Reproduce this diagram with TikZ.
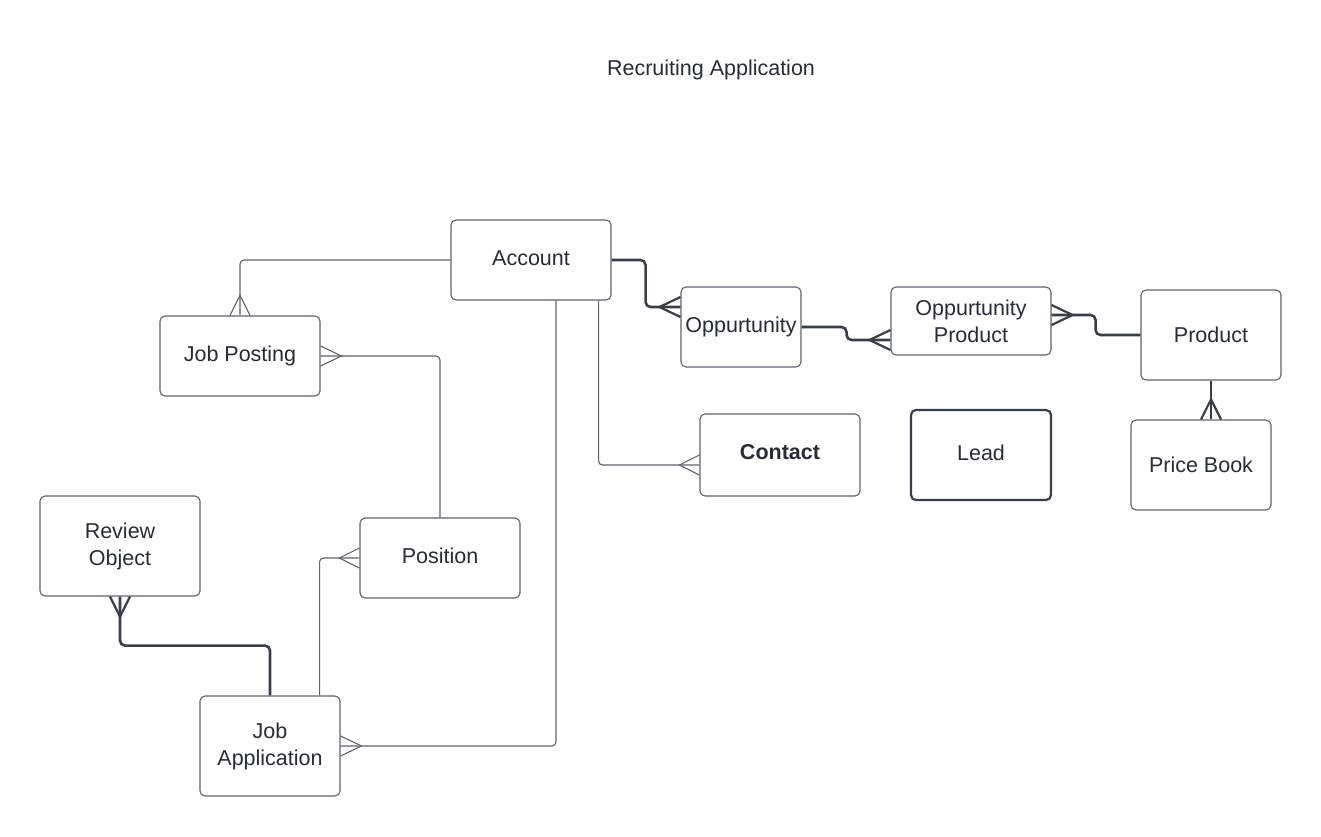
\documentclass[tikz,border=0pt]{standalone}
\usepackage{fontspec}
\setmainfont{Liberation Sans}
\usetikzlibrary{calc}
\definecolor{txt}{HTML}{282C33}
\definecolor{edge}{HTML}{5F636A}
\definecolor{dark}{HTML}{3A3F47}
\begin{document}
\begin{tikzpicture}[x=1pt,y=-1pt,
  ent/.style={draw=edge,line width=1.1pt,rounded corners=5pt,fill=white,text=txt,
    font=\fontsize{21.5}{27}\selectfont,align=center,inner sep=0pt},
  thin/.style={draw=edge,line width=1.1pt,rounded corners=4pt},
  thick/.style={draw=dark,line width=2.6pt,rounded corners=5pt}]
\useasboundingbox (0,0) rectangle (1321,836);
\node[text=txt,font=\fontsize{21.5}{26}\selectfont] (title) at (711,70) {Recruiting Application};

\node[ent,minimum width=160pt,minimum height=80pt] (acc) at (531,260) {};
\node[text=txt,font=\fontsize{21.5}{27}\selectfont] (acct) at (531,258) {Account};
\node[ent,minimum width=160pt,minimum height=80pt] (jp) at (240,356) {Job Posting};
\node[ent,minimum width=120pt,minimum height=80pt] (opp) at (741,327) {Oppurtunity};
\node[ent,minimum width=160pt,minimum height=68pt] (op) at (971,321) {Oppurtunity\\Product};
\node[ent,minimum width=140pt,minimum height=90pt] (prod) at (1211,335) {Product};
\node[ent,minimum width=140pt,minimum height=90pt] (pb) at (1201,465) {Price Book};
\node[ent,minimum width=160pt,minimum height=82pt] (con) at (780,455) {};
\node[text=txt,font=\fontsize{21.5}{27}\selectfont\bfseries] (cont) at (780,452) {Contact};
\node[ent,draw=dark,line width=2.2pt,minimum width=140pt,minimum height=90pt] (lead) at (981,455) {};
\node[text=txt,font=\fontsize{21.5}{27}\selectfont] (leadt) at (981,453) {Lead};
\node[ent,minimum width=160pt,minimum height=100pt] (ro) at (120,546) {Review\\Object};
\node[ent,minimum width=160pt,minimum height=80pt] (pos) at (440,558) {};
\node[text=txt,font=\fontsize{21.5}{27}\selectfont] (post) at (440,556) {Position};
\node[ent,minimum width=140pt,minimum height=100pt] (ja) at (270,746) {Job\\Application};

% thin connectors
\draw[thin] (acc.west) -| (jp.north);
\draw[thin,rounded corners=0pt] (jp.north) ++(-10,0) -- ++(10,-20) -- ++(10,20);

\draw[thin] (jp.east) -| (pos.north);
\draw[thin,rounded corners=0pt] (jp.east) ++(0,-10) -- ++(21,10) -- ++(-21,10);

\draw[thin] ($(acc.south east)+(-13,0)$) |- ($(con.west)+(0,10)$);
\draw[thin,rounded corners=0pt] ($(con.west)+(0,0)$) -- ++(-20,10) -- ++(20,10);

\draw[thin] ($(acc.south)+(25,0)$) |- (ja.east);
\draw[thin,rounded corners=0pt] (ja.east) ++(0,-10) -- ++(21,10) -- ++(-21,10);

\draw[thin] ($(ja.north east)+(-21,0)$) |- (pos.west);
\draw[thin,rounded corners=0pt] (pos.west) ++(0,-10) -- ++(-20,10) -- ++(20,10);

% thick connectors
\draw[thick] (ro.south) -- ++(0,49) -| (ja.north);
\draw[thick,rounded corners=0pt,line width=2.2pt] (ro.south) ++(-10,0) -- ++(10,20) -- ++(10,-20);

\draw[thick] (acc.east) -- ++(34,0) |- ($(opp.west)+(0,-20)$);
\draw[thick,rounded corners=0pt,line width=2.2pt] (opp.west) ++(0,-30) -- ++(-21,10) -- ++(21,10);

\draw[thick] (opp.east) -- ++(45,0) |- ($(op.west)+(0,19)$);
\draw[thick,rounded corners=0pt,line width=2.2pt] (op.west) ++(0,9) -- ++(-21,10) -- ++(21,10);

\draw[thick] ($(op.east)+(0,-6)$) -- ++(44,0) |- (prod.west);
\draw[thick,rounded corners=0pt,line width=2.2pt] (op.east) ++(0,-16) -- ++(21,10) -- ++(-21,10);

\draw[thick] (prod.south) -- (prod.south |- pb.north);
\draw[thick,rounded corners=0pt,line width=2.2pt] (prod.south |- pb.north) ++(-10,0) -- ++(10,-20) -- ++(10,20);
\end{tikzpicture}
\end{document}
